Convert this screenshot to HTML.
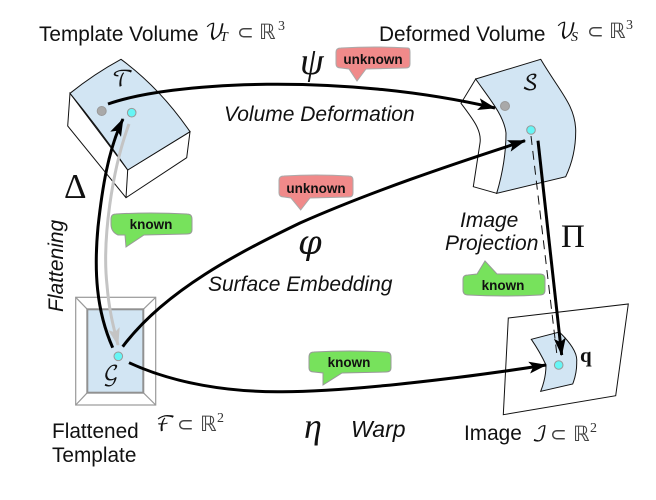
<!DOCTYPE html>
<html>
<head>
<meta charset="utf-8">
<style>
html,body{margin:0;padding:0;background:#fff;}
svg{display:block;}
.lab{font-family:"Liberation Sans",sans-serif;fill:#111;font-size:20.8px;}
.it{font-family:"Liberation Sans",sans-serif;font-style:italic;fill:#111;font-size:21px;}
.call{font-family:"Liberation Sans",sans-serif;font-weight:bold;fill:#111;font-size:13.5px;text-anchor:middle;}
.m{font-family:"DejaVu Math TeX Gyre","Liberation Serif",serif;font-style:normal;fill:#111;}
.g{font-family:"Liberation Serif",serif;font-style:italic;fill:#111;}
.r{font-family:"DejaVu Sans",sans-serif;fill:#444;}
.n{font-family:"Liberation Serif",serif;fill:#333;}
</style>
</head>
<body>
<svg width="656" height="500" viewBox="0 0 656 500" xmlns="http://www.w3.org/2000/svg">
<defs>
<marker id="ah" markerUnits="userSpaceOnUse" markerWidth="20" markerHeight="14" refX="17" refY="6" orient="auto"><path d="M0,0 L18,6 L0,12 L4,6 Z" fill="#000"/></marker>
<marker id="ahg" markerUnits="userSpaceOnUse" markerWidth="20" markerHeight="14" refX="17" refY="6" orient="auto"><path d="M0,0 L18,6 L0,12 L4,6 Z" fill="#c4c4c4"/></marker>
</defs>

<g stroke="#111" stroke-width="1" fill="#fff">
<path d="M70,93.3 L67.7,126 L126,197.7 L186.7,157.7 L190,131.7 L127.7,170 Z"/>
<path d="M127.7,170 L126,197.7"/>
<path d="M70,93.3 Q94,74 121,59.3 Q160,88 190,131.7 L127.7,170 Q100,130 70,93.3 Z" fill="#d2e5f3"/>
</g>

<g stroke="#111" stroke-width="1">
<path d="M475.7,79 L461,103.3 C472,118 482,130 480,143 L473.3,186.7 L496.7,193.3 L520,130 Z" fill="#fff"/>
<path d="M475.7,79 L540.7,59.3 C560,92 575,105 575.7,130 Q576,155 565.7,176.7 L496.7,193.3 C503,172 506,150 506,133 C504,115 488,97 475.7,79 Z" fill="#d2e5f3"/>
</g>

<g stroke="#111" stroke-width="1">
<path d="M508.3,318 L628.3,304 L615.7,395.7 L503.3,414.7 Z" fill="#fff"/>
<path d="M531.3,339.3 L559.3,332 Q578,350 576.7,361.7 Q577,373 572.7,384 L540.7,391.3 Q546,378 546,365 Q540,352 531.3,339.3 Z" fill="#d2e5f3"/>
</g>

<g>
<rect x="75.7" y="297.3" width="80" height="107.7" fill="#fff" stroke="#999" stroke-width="1.2"/>
<path d="M75.7,297.3 L87.3,309.3 M155.7,297.3 L143.3,309.3 M75.7,405 L87.3,392.7 M155.7,405 L143.3,392.7" stroke="#999" stroke-width="1.2"/>
<rect x="87.3" y="309.3" width="56" height="83.4" fill="#d2e5f3" stroke="#919191" stroke-width="2"/>
</g>

<path d="M531,136 L556.7,353" stroke="#111" stroke-width="1" stroke-dasharray="9,6" fill="none"/>

<path d="M129,124 C112,170 102,240 107,285 C109,310 113,325 118,345" stroke="#c4c4c4" stroke-width="3" fill="none" marker-end="url(#ahg)"/>
<path d="M112.7,347.7 C96,310 94,270 98,227 C102,190 108,150 123,119" stroke="#000" stroke-width="3" fill="none" marker-end="url(#ah)"/>
<path d="M108,104 C170,82 340,72 495,108" stroke="#000" stroke-width="3" fill="none" marker-end="url(#ah)"/>
<path d="M122.7,346.7 C165,290 240,252 300,223 C370,192 450,165 525,140.7" stroke="#000" stroke-width="3" fill="none" marker-end="url(#ah)"/>
<path d="M129,362.7 C175,384 230,392 280,391.7 C340,392 450,380 546,365" stroke="#000" stroke-width="3" fill="none" marker-end="url(#ah)"/>
<path d="M538,140.7 L561.7,355" stroke="#000" stroke-width="3" fill="none" marker-end="url(#ah)"/>

<g stroke="#999" stroke-width="1">
<circle cx="101.7" cy="111" r="4.5" fill="#a9a9a9"/>
<circle cx="131.7" cy="112.7" r="4.3" fill="#66f5f5"/>
<circle cx="505" cy="106" r="4.5" fill="#a9a9a9"/>
<circle cx="531" cy="130" r="4.3" fill="#66f5f5"/>
<circle cx="558.7" cy="365" r="4.3" fill="#66f5f5"/>
<circle cx="118.3" cy="356.3" r="4.3" fill="#66f5f5"/>
</g>

<g>
<path d="M341,48 Q375,46 408,48 Q410,48 410,52 L410,64 Q410,68 406,68 L366,69 L357,81 L349,69 L341,68 Q336,68 336,64 L336,52 Q336,48 341,48 Z" fill="#f08a8a" stroke="#aaa"/>
<text x="373" y="64" class="call">unknown</text>
</g>
<g>
<path d="M284,176 Q316,174 349,176 Q353,176 353,180 L353,193 Q353,197 349,197 L310,198 L300.7,210 L291,198 L284,197 Q279,197 279,193 L279,180 Q279,176 284,176 Z" fill="#f08a8a" stroke="#aaa"/>
<text x="316" y="193" class="call">unknown</text>
</g>
<g>
<path d="M116,214 Q150,212 187,214 Q192,214 192,219 L192,230 Q192,234 187,234 L144,235 L126,247 L125,235 L118,235 Q111,232 111,224 L111,219 Q111,214 116,214 Z" fill="#77e25c" stroke="#999"/>
<text x="151" y="229" class="call">known</text>
</g>
<g>
<path d="M468,275 L477,274 L485,261 L497,274 L540,274 Q545,274 545,279 L545,290 Q545,295 540,295 Q505,297 468,295 Q463,295 463,290 L463,279 Q463,275 468,275 Z" fill="#77e25c" stroke="#999"/>
<text x="503" y="290" class="call">known</text>
</g>
<g>
<path d="M314,352 Q350,350 386,352 Q391,352 391,357 L391,368 Q391,372 386,372 L342,373 L323,385 L323,373 L314,372 Q309,372 309,368 L309,357 Q309,352 314,352 Z" fill="#77e25c" stroke="#999"/>
<text x="349" y="367" class="call">known</text>
</g>

<text x="39" y="41" class="lab">Template Volume</text>
<g>
<text x="205" y="39" class="m" font-size="21">𝒱</text>
<text x="220" y="41" class="g" font-size="14">T</text>
<text x="237" y="39" class="r" font-size="20">⊂</text>
<text x="259" y="39" class="r" font-size="21">ℝ</text>
<text x="278" y="30" class="n" font-size="14">3</text>
</g>
<text x="379" y="41" class="lab">Deformed Volume</text>
<g>
<text x="556" y="38" class="m" font-size="21">𝒱</text>
<text x="571" y="41" class="g" font-size="14">S</text>
<text x="587" y="38" class="r" font-size="20">⊂</text>
<text x="609" y="38" class="r" font-size="21">ℝ</text>
<text x="626" y="29" class="n" font-size="14">3</text>
</g>

<text x="300" y="74" class="g" font-size="38">ψ</text>
<text x="224" y="121" class="it">Volume Deformation</text>
<text x="297" y="254" class="m" font-size="34">𝜑</text>
<text x="208" y="291" class="it">Surface Embedding</text>
<text x="304" y="438" class="g" font-size="36">η</text>
<text x="351" y="437" class="it" style="font-size:23px">Warp</text>
<text x="460" y="227" class="it">Image</text>
<text x="445" y="250" class="it">Projection</text>
<text x="561" y="247" font-family="Liberation Serif,serif" font-size="33" fill="#111">Π</text>
<text x="64" y="198" font-family="Liberation Serif,serif" font-size="35" fill="#111">Δ</text>
<text transform="translate(63,312) rotate(-90)" class="it">Flattening</text>
<text x="112" y="86" class="m" font-size="21">𝒯</text>
<text x="522" y="90" class="m" font-size="21">𝒮</text>
<text x="103" y="381" class="m" font-size="21">𝒢</text>
<text x="580" y="362" font-family="Liberation Serif,serif" font-weight="bold" font-size="21" fill="#111">q</text>
<g>
<text x="156" y="431" class="m" font-size="21">ℱ</text>
<text x="177" y="431" class="r" font-size="20">⊂</text>
<text x="200" y="431" class="r" font-size="21">ℝ</text>
<text x="217" y="422" class="n" font-size="14">2</text>
</g>
<text x="52" y="438" class="lab">Flattened</text>
<text x="52" y="462" class="lab">Template</text>
<text x="464" y="440" class="lab">Image</text>
<g>
<text x="532" y="441" class="m" font-size="21">ℐ</text>
<text x="550" y="441" class="r" font-size="20">⊂</text>
<text x="573" y="441" class="r" font-size="21">ℝ</text>
<text x="590" y="432" class="n" font-size="14">2</text>
</g>
</svg>
</body>
</html>
